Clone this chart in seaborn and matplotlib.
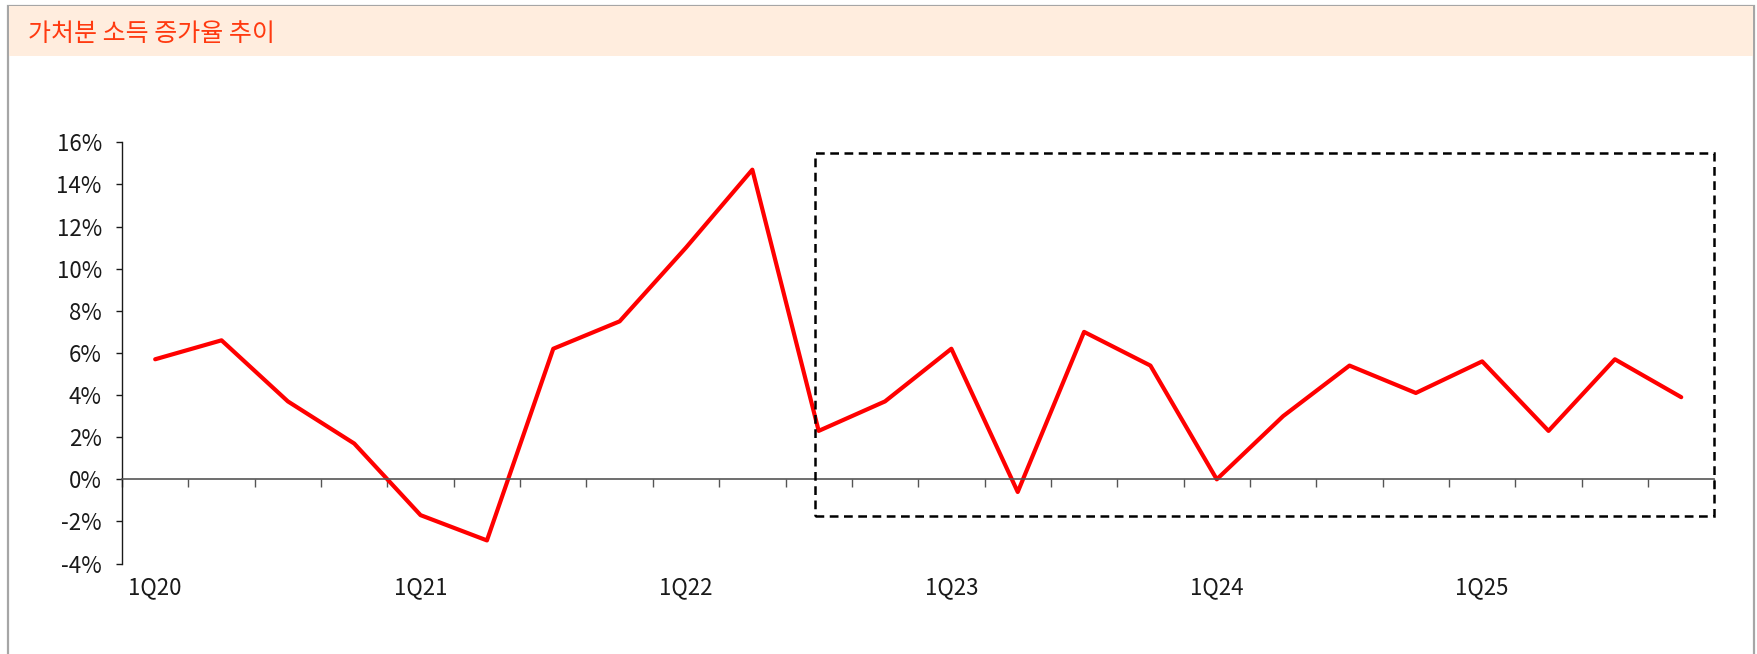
import matplotlib
matplotlib.use("Agg")
import matplotlib.pyplot as plt
import matplotlib.patches as mpatches
import seaborn as sns
import pandas as pd
import numpy as np

# ---- data ----
quarters = [f"{q}Q{y}" for y in range(20, 26) for q in range(1, 5)]
growth = [5.7, 6.6, 3.7, 1.7, -1.7, -2.9, 6.2, 7.5, 11.0, 14.7, 2.3, 3.7,
          6.2, -0.6, 7.0, 5.4, 0.0, 3.0, 5.4, 4.1, 5.6, 2.3, 5.7, 3.9]
yticks = [-4, -2, 0, 2, 4, 6, 8, 10, 12, 14, 16]
title = "가처분 소득 증가율 추이"
# highlight box (data coords): x from 3Q22 to end, y range in %
box_x = (9.95, 23.5)
box_y = (-1.75, 15.5)

df = pd.DataFrame({"idx": np.arange(len(quarters)), "q": quarters, "g": growth})

sns.set_theme(style="white")
plt.rcParams['font.family'] = ['Noto Sans CJK KR', 'DejaVu Sans']

W, H, DPI = 1757, 654, 100
fig = plt.figure(figsize=(W / DPI, H / DPI), dpi=DPI)
fig.patch.set_facecolor("white")

# outer frame and title band
fig.patches.append(mpatches.Rectangle((8 / W, -0.02), (1754 - 8) / W, 1.02 - 6 / H,
                                      transform=fig.transFigure, facecolor="none",
                                      edgecolor="#A6A6A6", lw=1.6, zorder=0))
fig.patches.append(mpatches.Rectangle((9 / W, 1 - 56 / H), (1753 - 9) / W, 50 / H,
                                      transform=fig.transFigure, facecolor="#FFEDDE",
                                      edgecolor="none", zorder=0))
fig.text(28 / W, 1 - 34 / H, title, color="#FF3A10", fontsize=18,
         va="center", ha="left")

ax = fig.add_axes([122 / W, 1 - 563.6 / H, (1714.4 - 122) / W, (563.6 - 142.3) / H])
sns.lineplot(data=df, x="idx", y="g", ax=ax, color="#FF0000", lw=3.0, legend=False)

ax.set_xlim(-0.5, len(quarters) - 0.5)
ax.set_ylim(-4, 16)
ax.set_yticks(yticks)
ax.set_yticklabels([f"{v}%" for v in yticks], fontsize=16, color="#1A1A1A")
ax.set_xlabel("")
ax.set_ylabel("")

for s in ["top", "right"]:
    ax.spines[s].set_visible(False)
ax.spines["left"].set_color("#1A1A1A")
ax.spines["left"].set_linewidth(1.0)
ax.spines["bottom"].set_position(("data", 0))
ax.spines["bottom"].set_color("#555555")
ax.spines["bottom"].set_linewidth(1.2)

ax.tick_params(axis="y", which="major", direction="out", length=4.5, width=1.0,
               color="#1A1A1A", pad=10, left=True)
# x: category boundary ticks on zero line, labels every 4 quarters at the bottom
ax.set_xticks(np.arange(-0.5, len(quarters), 1.0), minor=True)
ax.set_xticks(df["idx"][::4])
ax.set_xticklabels(df["q"][::4], fontsize=16, color="#1A1A1A")
ax.tick_params(axis="x", which="minor", direction="out", length=6, width=1.0,
               color="#555555", bottom=True)
ax.tick_params(axis="x", which="major", length=0, pad=70, bottom=True)

ax.add_patch(mpatches.Rectangle((box_x[0], box_y[0]), box_x[1] - box_x[0], box_y[1] - box_y[0],
                                fill=False, edgecolor="black", lw=1.8,
                                linestyle=(0, (3.5, 2.2)), zorder=5, clip_on=False))

ax.set_facecolor("none")
fig.savefig("out.png", dpi=DPI)
